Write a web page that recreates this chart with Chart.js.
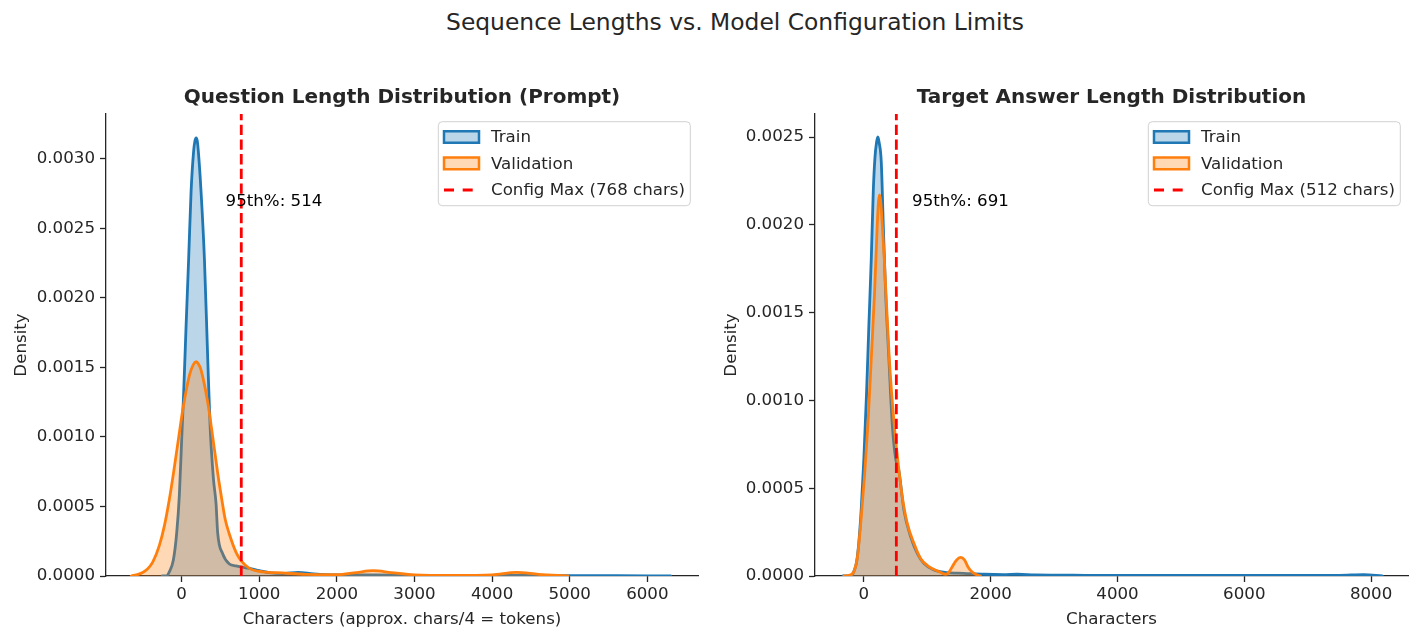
<!DOCTYPE html>
<html><head><meta charset="utf-8">
<script src="https://cdn.jsdelivr.net/npm/chart.js@4.4.1/dist/chart.umd.min.js"></script>
<style>
html,body{margin:0;padding:0;background:#fff;}
#wrap{position:relative;width:1420px;height:642px;overflow:hidden;}
#sup{position:absolute;left:235px;width:1000px;top:8px;text-align:center;font-family:'DejaVu Sans',sans-serif;font-size:23.4px;line-height:28px;color:#262626;white-space:nowrap;}
canvas{position:absolute;top:0;}
#c1{left:0;} #c2{left:710px;}
</style></head>
<body><div id="wrap">
<div id="sup">Sequence Lengths vs. Model Configuration Limits</div>
<canvas id="c1" width="710" height="642"></canvas>
<canvas id="c2" width="710" height="642"></canvas>
</div>
<script>
// ---------- data ----------
// Left panel: question lengths
const qTrainX = [-250,-200,-159,-107,-64,-30,0,26,57,90,121,155,172,186,200,215,250,293,336,366,409,443,464,528,615,700,760,873,1001,1150,1300,1500,1700,2000,2500,3000,4000,5000,5600,6300];
const qTrainY = [0,0,0.00003,0.000115,0.00031,0.00058,0.00098,0.00132,0.0018,0.00228,0.00276,0.00306,0.00313,0.00315,0.00313,0.00305,0.00276,0.00228,0.00156,0.00108,0.0007,0.00052,0.00031,0.00016,0.000086,0.000072,0.000065,0.000055,0.000038,0.000022,0.000018,0.000026,0.000015,0.000008,0.000008,0.000005,0.000004,0.000003,0.000002,0];
const qValX = [-650,-560,-503,-440,-373,-287,-223,-159,-100,-40,13,99,150,186,220,250,335,400,464,520,560,615,701,765,873,1044,1300,1600,2000,2250,2464,2700,3000,3500,4000,4312,4600,4976];
const qValY = [0,0.000012,0.000025,0.00005,0.0001,0.00022,0.00036,0.00055,0.00076,0.00099,0.00119,0.00144,0.00152,0.00154,0.00152,0.00148,0.00125,0.001,0.00074,0.00054,0.00041,0.0003,0.00017,0.00011,0.000055,0.00003,0.000022,0.000012,0.00001,0.000025,0.000038,0.000025,0.000008,0.000004,0.000008,0.000026,0.000012,0];
const qP95 = 514;
const qConfigMax = 768;
const qXTicks = [0,1000,2000,3000,4000,5000,6000];
const qYTicks = [0,0.0005,0.001,0.0015,0.002,0.0025,0.003];

// Right panel: target answer lengths
const aTrainX = [-330,-200,-158,-115,-79,-41,0,43,79,117,148,174,200,221,240,274,306,342,394,448,500,552,631,737,842,946,1104,1315,1577,1893,2200,2420,2700,3500,4500,5500,6500,7500,7882,8177];
const aTrainY = [0,0,0.000025,0.00008,0.000195,0.000386,0.00067,0.00105,0.00143,0.00181,0.00219,0.00238,0.00247,0.0025,0.00247,0.00236,0.002,0.00162,0.00124,0.00086,0.00067,0.0006,0.000376,0.000224,0.000129,0.000072,0.000034,0.000019,0.000015,0.00001,0.000008,0.00001,0.000006,0.000004,0.000003,0.000003,0.000003,0.000004,0.000008,0];
const aValX = [-315,-220,-158,-105,-52,11,63,117,169,211,230,248,266,285,321,400,479,552,605,684,789,894,1025,1183,1289,1340,1394,1460,1525,1590,1640,1700,1762,1840];
const aValY = [0,0.000005,0.000025,0.0001,0.00029,0.000575,0.00086,0.00124,0.00162,0.002,0.00213,0.00217,0.00213,0.00203,0.00181,0.00124,0.00086,0.000604,0.000452,0.0003,0.000186,0.0001,0.000053,0.000025,0.00001,0.00002,0.000053,0.00009,0.000106,0.00009,0.000053,0.000025,0.00001,0];
const aP95 = 691;
const aConfigMax = 512;
const aXTicks = [0,2000,4000,6000,8000];
const aYTicks = [0,0.0005,0.001,0.0015,0.002,0.0025];

// ---------- rendering ----------
const FONT = "'DejaVu Sans', sans-serif";
const INK = '#262626';
const BLUE = '#1f77b4', ORANGE = '#ff7f0e';
const zip = (xs, ys) => xs.map((x, i) => ({x, y: ys[i]}));

const annotPlugin = {
  id: 'p95text',
  afterDatasetsDraw(chart) {
    const s = chart.options.plugins.p95text;
    const ctx = chart.ctx;
    const xs = chart.scales.x, ys = chart.scales.y;
    ctx.save();
    ctx.font = '16.67px ' + FONT;
    ctx.fillStyle = '#000';
    ctx.textAlign = 'left';
    ctx.textBaseline = 'alphabetic';
    ctx.fillText('95th%: ' + s.p95, xs.getPixelForValue(s.p95 * 1.1), ys.getPixelForValue(ys.max * 0.8));
    ctx.restore();
  }
};

const legendPlugin = {
  id: 'mplLegend',
  afterDraw(chart) {
    const ctx = chart.ctx, ca = chart.chartArea;
    const left = ca.right - 259.7, right = ca.right - 7.7, top = ca.top + 7.7, bottom = ca.top + 91.7;
    ctx.save();
    ctx.beginPath();
    ctx.roundRect(left, top, right - left, bottom - top, 4);
    ctx.fillStyle = 'rgba(255,255,255,0.8)';
    ctx.fill();
    ctx.strokeStyle = 'rgba(204,204,204,0.9)';
    ctx.lineWidth = 1;
    ctx.stroke();
    const rows = [top + 15.3, top + 41.6, top + 68.3];
    const ds = chart.data.datasets;
    [0, 1].forEach(i => {
      ctx.beginPath();
      ctx.rect(left + 5.7, rows[i] - 5.85, 35, 11.7);
      ctx.fillStyle = ds[i].backgroundColor;
      ctx.fill();
      ctx.strokeStyle = ds[i].borderColor;
      ctx.lineWidth = 2.5;
      ctx.stroke();
    });
    ctx.beginPath();
    ctx.setLineDash([10, 8.7]);
    ctx.moveTo(left + 5.7, rows[2]);
    ctx.lineTo(left + 36.5, rows[2]);
    ctx.strokeStyle = '#ff0000';
    ctx.lineWidth = 2.8;
    ctx.stroke();
    ctx.setLineDash([]);
    ctx.font = '16.67px ' + FONT;
    ctx.fillStyle = INK;
    ctx.textAlign = 'left';
    ctx.textBaseline = 'middle';
    ds.forEach((d, i) => ctx.fillText(d.label, left + 52.7, rows[i] + 1));
    ctx.restore();
  }
};

function makeChart(id, s) {
  const tickFont = {family: FONT, size: 16.67};
  const axisCommon = {
    bounds: 'data',
    grid: {display: true, drawOnChartArea: false, drawTicks: true, tickLength: 6, tickColor: INK, tickWidth: 1.3},
    border: {display: true, color: INK, width: 1.3},
  };
  return new Chart(document.getElementById(id), {
    type: 'line',
    data: {datasets: [
      {label: 'Train', data: zip(s.trainX, s.trainY), borderColor: BLUE, backgroundColor: 'rgba(31,119,180,0.3)',
       fill: 'origin', borderWidth: 2.8, pointRadius: 0, cubicInterpolationMode: 'monotone', borderJoinStyle: 'round', borderCapStyle: 'round', order: 2},
      {label: 'Validation', data: zip(s.valX, s.valY), borderColor: ORANGE, backgroundColor: 'rgba(255,127,14,0.3)',
       fill: 'origin', borderWidth: 2.8, pointRadius: 0, cubicInterpolationMode: 'monotone', borderJoinStyle: 'round', borderCapStyle: 'round', order: 1},
      {label: 'Config Max (' + s.cfgMax + ' chars)', data: [{x: s.cfgMax, y: 0}, {x: s.cfgMax, y: s.yMax}],
       borderColor: '#ff0000', borderDash: [10.3, 4.4], borderWidth: 2.8, fill: false, pointRadius: 0, order: 0}
    ]},
    options: {
      responsive: false, animation: false, events: [],
      layout: {padding: {left: 0, right: s.padRight, top: 0, bottom: 0}},
      plugins: {
        legend: {display: false}, tooltip: {enabled: false},
        title: {display: true, text: s.title, color: INK, fullSize: false,
                font: {family: FONT, size: 20, weight: 'bold'}, padding: {top: 86, bottom: 4}},
        p95text: {p95: s.p95}
      },
      scales: {
        x: Object.assign({}, axisCommon, {
          type: 'linear', min: s.xMin, max: s.xMax,
          afterBuildTicks: sc => { sc.ticks = s.xTicks.map(v => ({value: v})); },
          afterFit: sc => { sc.height = 66; },
          ticks: {color: INK, font: tickFont, padding: 3, maxRotation: 0, autoSkip: false, callback: v => String(v)},
          title: {display: true, text: s.xLabel, color: INK, font: tickFont, padding: {top: 12, bottom: 12}}
        }),
        y: Object.assign({}, axisCommon, {
          type: 'linear', min: 0, max: s.yMax,
          afterBuildTicks: sc => { sc.ticks = s.yTicks.map(v => ({value: v})); },
          afterFit: sc => { sc.width = s.yWidth; },
          ticks: {color: INK, font: tickFont, padding: 5, autoSkip: false, callback: v => Number(v).toFixed(4)},
          title: {display: true, text: 'Density', color: INK, font: tickFont, padding: {top: 12, bottom: 12}}
        })
      }
    },
    plugins: [annotPlugin, legendPlugin]
  });
}

makeChart('c1', {
  title: 'Question Length Distribution (Prompt)', xLabel: 'Characters (approx. chars/4 = tokens)',
  trainX: qTrainX, trainY: qTrainY, valX: qValX, valY: qValY, p95: qP95, cfgMax: qConfigMax,
  xTicks: qXTicks, yTicks: qYTicks, xMin: -975, xMax: 6653, yMax: 0.003321, yWidth: 106, padRight: 12
});
makeChart('c2', {
  title: 'Target Answer Length Distribution', xLabel: 'Characters',
  trainX: aTrainX, trainY: aTrainY, valX: aValX, valY: aValY, p95: aP95, cfgMax: aConfigMax,
  xTicks: aXTicks, yTicks: aYTicks, xMin: -771, xMax: 8582, yMax: 0.002631, yWidth: 105, padRight: 12
});
</script>
</body></html>
